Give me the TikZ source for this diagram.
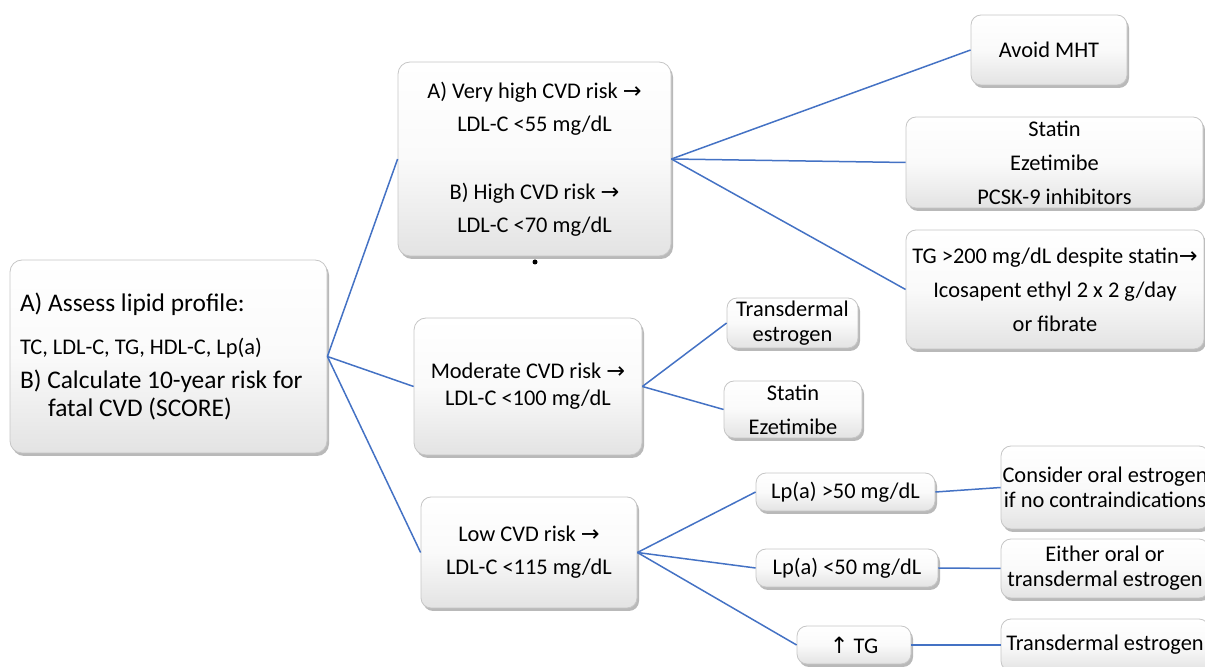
\documentclass[tikz,border=0pt]{standalone}
\usepackage{fontspec}
\setmainfont{Carlito}
\newfontfamily\arrowfont{DejaVu Sans}
\usepackage{tikz}
\usetikzlibrary{shadows}

\definecolor{linkblue}{HTML}{4472C4}
\newcommand{\toarr}{{\arrowfont\char"2192}}
\newcommand{\uparr}{{\arrowfont\char"2191}}
\newcommand{\lsp}[1]{\fontsize{11.2}{#1}\selectfont}

\begin{document}
\begin{tikzpicture}[x=0.5pt, y=-0.5pt,
		box/.style={draw=gray!45, rounded corners=5pt, top color=white, bottom color=gray!22, middle color=gray!4,
			drop shadow={shadow xshift=1pt, shadow yshift=-1.5pt, fill=black!50, opacity=0.55},
			align=center, inner sep=0pt, font=\lsp{16.5}},
		link/.style={draw=linkblue, line width=0.75pt}]
			\useasboundingbox (0,0) rectangle (1205,667);
			\clip (0,0) rectangle (1205,667);
			% first column
			\node[box, rounded corners=6pt, minimum width=158.5pt, minimum height=96.5pt, align=flush left, text width=148.5pt, font=\fontsize{12.7}{14}\selectfont] (assess) at (168.5,356.5)
				{A) Assess lipid profile:\\[7.4pt]{\lsp{14}TC, LDL-C, TG, HDL-C, Lp(a)}\\[3.1pt]B) Calculate 10-year risk for\\\hspace*{14pt}fatal CVD (SCORE)};
			% risk levels
			\node[box, rounded corners=6pt, minimum width=136.5pt, minimum height=97pt] (vhigh) at (534.5,159)
				{A) Very high CVD risk \toarr\\LDL-C <55 mg/dL\\[17.5pt]B) High CVD risk \toarr\\LDL-C <70 mg/dL};
			\node[box, rounded corners=6pt, minimum width=114pt, minimum height=68.5pt, font=\lsp{13.5}] (mod) at (528,386.5)
				{Moderate CVD risk \toarr\\LDL-C <100 mg/dL};
			\node[box, minimum width=108pt, minimum height=55.5pt] (low) at (529,552.5)
				{Low CVD risk \toarr\\LDL-C <115 mg/dL};
			\node[circle, fill=black, inner sep=0pt, minimum size=2.5pt] (dot) at (535,262) {};
			% treatments
			\node[box, minimum width=78pt, minimum height=35pt] (mht) at (1049,50) {Avoid MHT};
			\node[box, minimum width=148.5pt, minimum height=45.5pt, font=\lsp{17}] (statA) at (1054.5,162.5)
				{Statin\\Ezetimibe\\PCSK-9 inhibitors};
			\node[box, minimum width=149pt, minimum height=59.5pt, font=\lsp{17}] (tgA) at (1055,289.5)
				{TG >200 mg/dL despite statin\toarr\\Icosapent ethyl 2 x 2 g/day\\or fibrate};
			\node[box, minimum width=65.5pt, minimum height=25pt, font=\lsp{12.5}] (trA) at (792.5,323)
				{Transdermal\\estrogen};
			\node[box, minimum width=69pt, minimum height=28.5pt, font=\lsp{17}] (statB) at (793,409.5)
				{Statin\\Ezetimibe};
			\node[box, minimum width=89.5pt, minimum height=19pt] (lpaH) at (845.5,492) {Lp(a) >50 mg/dL};
			\node[box, minimum width=91pt, minimum height=19pt] (lpaL) at (847,568) {Lp(a) <50 mg/dL};
			\node[box, minimum width=57pt, minimum height=19pt] (tgup) at (854,645) {\uparr{} TG};
			\node[box, minimum width=104pt, minimum height=41.5pt, font=\lsp{12.5}] (oral) at (1105,487.5)
				{Consider oral estrogen\\if no contraindications};
			\node[box, minimum width=104pt, minimum height=29.5pt, font=\lsp{12.5}] (either) at (1105,568.5)
				{Either oral or\\transdermal estrogen};
			\node[box, minimum width=104pt, minimum height=26pt] (trB) at (1105,645) {Transdermal estrogen};
			\path[link]
			(assess.east) edge (vhigh.west) edge (mod.west) edge (low.west)
			(vhigh.east) edge (mht.west) edge (statA.west) edge (tgA.west)
			(mod.east) edge (trA.west) edge (statB.west)
			(low.east) edge (lpaH.west) edge (lpaL.west) edge (tgup.west)
			(lpaH.east) edge (oral.west)
			(lpaL.east) edge (either.west)
			(tgup.east) edge (trB.west);
		\end{tikzpicture}
\end{document}
